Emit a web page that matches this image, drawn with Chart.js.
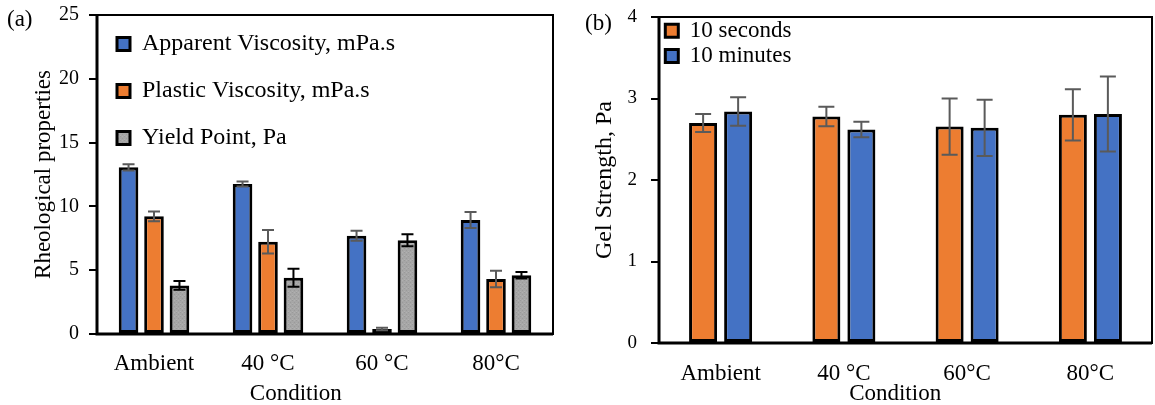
<!DOCTYPE html>
<html><head><meta charset="utf-8">
<script src="https://cdn.jsdelivr.net/npm/chart.js@4.4.1/dist/chart.umd.min.js"></script>
<style>
html,body{margin:0;padding:0;background:#fff;}
body{width:1155px;height:405px;position:relative;overflow:hidden;font-family:'Liberation Serif','Times New Roman',serif;}
#ca{position:absolute;left:0;top:0;}
#cb{position:absolute;left:578px;top:0;}
.pl{position:absolute;font-size:23px;color:#000;line-height:1;}
</style></head><body>
<canvas id="ca" width="578" height="405"></canvas>
<canvas id="cb" width="577" height="405"></canvas>
<div class="pl" style="left:7px;top:7px">(a)</div>
<div class="pl" style="left:585px;top:11px">(b)</div>
<script>
const FONT = "'Liberation Serif', 'Times New Roman', serif";

// ---- Panel (a) data ----
const categoriesA = ['Ambient', '40 °C', '60 °C', '80°C'];
const apparentViscosity = [13.06, 11.75, 7.70, 8.93];
const apparentViscosityErr = [0.25, 0.20, 0.40, 0.63];
const plasticViscosity = [9.22, 7.23, 0.39, 4.31];
const plasticViscosityErr = [0.38, 0.93, 0.10, 0.65];
const yieldPoint = [3.81, 4.41, 7.34, 4.60];
const yieldPointErr = [0.35, 0.70, 0.47, 0.26];
const yTicksA = [0, 5, 10, 15, 20, 25];
const seriesNamesA = ['Apparent Viscosity, mPa.s', 'Plastic Viscosity, mPa.s', 'Yield Point, Pa'];
const yTitleA = 'Rheological properties';
const xTitleA = 'Condition';

// ---- Panel (b) data ----
const categoriesB = ['Ambient', '40 °C', '60°C', '80°C'];
const gel10s = [2.70, 2.78, 2.655, 2.80];
const gel10sErr = [0.11, 0.12, 0.345, 0.315];
const gel10min = [2.84, 2.62, 2.64, 2.81];
const gel10minErr = [0.175, 0.095, 0.345, 0.46];
const yTicksB = [0, 1, 2, 3, 4];
const seriesNamesB = ['10 seconds', '10 minutes'];
const yTitleB = 'Gel Strength, Pa';
const xTitleB = 'Condition';

// ---- plugins ----
const errorBarPlugin = {
  id: 'errorBars',
  afterDatasetsDraw(chart) {
    const ctx = chart.ctx;
    const yScale = chart.scales.y;
    chart.data.datasets.forEach((ds, di) => {
      const meta = chart.getDatasetMeta(di);
      if (!ds.errors || meta.hidden) return;
      ctx.save();
      ctx.strokeStyle = ds.errorColor;
      ctx.lineWidth = ds.errorWidth;
      meta.data.forEach((bar, i) => {
        const v = ds.data[i], e = ds.errors[i];
        const yT = yScale.getPixelForValue(v + e);
        const yB = yScale.getPixelForValue(v - e);
        const h = ds.capHalf;
        ctx.beginPath();
        ctx.moveTo(bar.x, yT); ctx.lineTo(bar.x, yB);
        ctx.moveTo(bar.x - h, yT); ctx.lineTo(bar.x + h, yT);
        ctx.moveTo(bar.x - h, yB); ctx.lineTo(bar.x + h, yB);
        ctx.stroke();
      });
      ctx.restore();
    });
  }
};
const framePlugin = {
  id: 'frame',
  afterDatasetsDraw(chart) {
    const {left, top, right, bottom} = chart.chartArea;
    const ctx = chart.ctx;
    ctx.save();
    ctx.strokeStyle = '#000';
    ctx.lineWidth = 2;
    ctx.strokeRect(Math.round(left), Math.round(top), Math.round(right - left), Math.round(bottom - top));
    ctx.lineWidth = 3;
    ctx.beginPath();
    ctx.moveTo(Math.round(left), Math.round(top));
    ctx.lineTo(Math.round(left), Math.round(bottom));
    ctx.lineTo(Math.round(right), Math.round(bottom));
    ctx.stroke();
    ctx.restore();
  }
};
const xTitlePlugin = {
  id: 'xTitle',
  afterDraw(chart, args, opts) {
    const a = chart.chartArea;
    const ctx = chart.ctx;
    ctx.save();
    ctx.font = opts.size + 'px ' + FONT;
    ctx.fillStyle = '#000';
    ctx.textAlign = 'center';
    ctx.textBaseline = 'alphabetic';
    ctx.fillText(opts.text, a.left + opts.frac * (a.right - a.left), opts.baseline);
    ctx.restore();
  }
};
const shiftLegendPlugin = {
  id: 'shiftLegend',
  afterLayout(chart, args, opts) {
    const lg = chart.legend;
    if (!lg) return;
    lg.left += opts.dx; lg.right += opts.dx;
    lg.top += opts.dy; lg.bottom += opts.dy;
  }
};

function makeStipple(canvas) {
  const c = document.createElement('canvas');
  c.width = 4; c.height = 4;
  const g = c.getContext('2d');
  g.fillStyle = '#a6a6a6'; g.fillRect(0, 0, 4, 4);
  g.fillStyle = '#9a9a9a'; g.fillRect(0, 0, 1, 1); g.fillRect(2, 2, 1, 1);
  g.fillStyle = '#b0b0b0'; g.fillRect(2, 0, 1, 1); g.fillRect(0, 3, 1, 1);
  return canvas.getContext('2d').createPattern(c, 'repeat');
}

const caEl = document.getElementById('ca');
const stipple = makeStipple(caEl);

new Chart(caEl, {
  type: 'bar',
  data: {
    labels: categoriesA,
    datasets: [
      {label: seriesNamesA[0], data: apparentViscosity, errors: apparentViscosityErr, backgroundColor: '#4472c4', errorColor: '#5a5a5a'},
      {label: seriesNamesA[1], data: plasticViscosity, errors: plasticViscosityErr, backgroundColor: '#ed7d31', errorColor: '#5a5a5a'},
      {label: seriesNamesA[2], data: yieldPoint, errors: yieldPointErr, backgroundColor: stipple, errorColor: '#000000'}
    ].map(d => Object.assign(d, {borderColor: '#000', borderWidth: 3, borderSkipped: false, errorWidth: 2, capHalf: 6}))
  },
  options: {
    responsive: false, animation: false,
    layout: {padding: {left: 0, top: 15, right: 25, bottom: 0}},
    datasets: {bar: {categoryPercentage: 0.67, barPercentage: 0.77}},
    scales: {
      x: {
        grid: {display: false, drawTicks: false}, border: {display: false},
        ticks: {font: {family: FONT, size: 23}, color: '#000', padding: 16},
        afterFit: s => { s.height = 71; s.paddingLeft = 0; s.paddingRight = 0; }
      },
      y: {
        min: yTicksA[0], max: yTicksA[yTicksA.length - 1],
        ticks: {stepSize: yTicksA[1] - yTicksA[0], font: {family: FONT, size: 20}, color: '#000', padding: 10},
        grid: {drawOnChartArea: false, drawTicks: true, tickLength: 8, color: '#000', lineWidth: 2},
        border: {display: false},
        title: {display: true, text: yTitleA, font: {family: FONT, size: 23}, color: '#000', padding: {top: 30, bottom: 0}},
        afterFit: s => { s.width = 97; s.paddingTop = 0; s.paddingBottom = 0; }
      }
    },
    plugins: {
      legend: {position: 'chartArea', align: 'start',
        labels: {font: {family: FONT, size: 24}, color: '#000', boxWidth: 13, boxHeight: 13, padding: 23}},
      tooltip: {enabled: false},
      shiftLegend: {dx: -3, dy: 9},
      xTitle: {text: xTitleA, frac: 0.436, baseline: 400, size: 23}
    }
  },
  plugins: [errorBarPlugin, framePlugin, xTitlePlugin, shiftLegendPlugin]
});

new Chart(document.getElementById('cb'), {
  type: 'bar',
  data: {
    labels: categoriesB,
    datasets: [
      {label: seriesNamesB[0], data: gel10s, errors: gel10sErr, backgroundColor: '#ed7d31'},
      {label: seriesNamesB[1], data: gel10min, errors: gel10minErr, backgroundColor: '#4472c4'}
    ].map(d => Object.assign(d, {borderColor: '#000', borderWidth: 3, borderSkipped: false, errorColor: '#5a5a5a', errorWidth: 2, capHalf: 8}))
  },
  options: {
    responsive: false, animation: false,
    layout: {padding: {left: 0, top: 17, right: 3, bottom: 0}},
    datasets: {bar: {categoryPercentage: 0.568, barPercentage: 0.8}},
    scales: {
      x: {
        grid: {display: false, drawTicks: false}, border: {display: false},
        ticks: {font: {family: FONT, size: 23}, color: '#000', padding: 17},
        afterFit: s => { s.height = 62; s.paddingLeft = 0; s.paddingRight = 0; }
      },
      y: {
        min: yTicksB[0], max: yTicksB[yTicksB.length - 1],
        ticks: {stepSize: yTicksB[1] - yTicksB[0], font: {family: FONT, size: 19}, color: '#000', padding: 14},
        grid: {drawOnChartArea: false, drawTicks: true, tickLength: 8, color: '#000', lineWidth: 2},
        border: {display: false},
        title: {display: true, text: yTitleB, font: {family: FONT, size: 24}, color: '#000', padding: {top: 12, bottom: 0}},
        afterFit: s => { s.width = 81; s.paddingTop = 0; s.paddingBottom = 0; }
      }
    },
    plugins: {
      legend: {position: 'chartArea', align: 'start',
        labels: {font: {family: FONT, size: 23}, color: '#000', boxWidth: 13, boxHeight: 13, padding: 2.3}},
      tooltip: {enabled: false},
      shiftLegend: {dx: 4, dy: 17},
      xTitle: {text: xTitleB, frac: 0.479, baseline: 400, size: 23}
    }
  },
  plugins: [errorBarPlugin, framePlugin, xTitlePlugin, shiftLegendPlugin]
});
</script>
</body></html>
